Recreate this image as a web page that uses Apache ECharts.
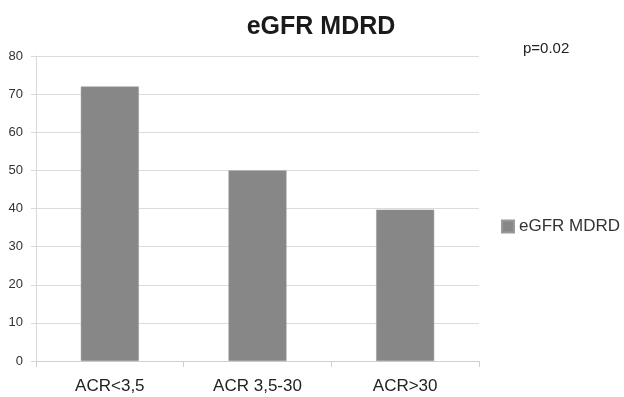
<!DOCTYPE html>
<html>
<head>
<meta charset="utf-8">
<script src="https://cdn.jsdelivr.net/npm/echarts@6/dist/echarts.min.js"></script>
<style>html,body{margin:0;padding:0;background:#fff}#c{width:624px;height:397px}</style>
</head>
<body>
<div id="c"></div>
<script>
const categories = ["ACR<3,5", "ACR 3,5-30", "ACR>30"];
const seriesName = "eGFR MDRD";
const values = [72, 50, 39.7];
const titleText = "eGFR MDRD";
const noteText = "p=0.02";

const chart = echarts.init(document.getElementById('c'), null, {renderer: 'canvas'});
chart.setOption({
  animation: false,
  backgroundColor: '#ffffff',
  title: {
    text: titleText,
    left: 316,
    top: 10,
    textAlign: 'center',
    textStyle: {fontFamily: 'Liberation Sans', fontWeight: 'bold', fontSize: 25, color: '#1a1a1a'}
  },
  graphic: [{
    type: 'text',
    left: 523,
    top: 41,
    style: {text: noteText, fontFamily: 'Liberation Sans', fontSize: 15, fill: '#222'}
  }],
  legend: {
    data: [seriesName],
    left: 496,
    top: 213,
    itemWidth: 12,
    itemHeight: 12,
    itemGap: 5,
    icon: 'rect',
    textStyle: {fontFamily: 'Liberation Sans', fontSize: 17, color: '#333'}
  },
  grid: {left: 36, right: 145, top: 56, bottom: 36, containLabel: false},
  xAxis: {
    type: 'category',
    data: categories,
    axisLine: {show: true, lineStyle: {color: '#d0d0d0', width: 1}},
    axisTick: {show: true, length: 6, lineStyle: {color: '#d0d0d0'}},
    axisLabel: {fontFamily: 'Liberation Sans', fontSize: 17, color: '#222', margin: 17}
  },
  yAxis: {
    type: 'value',
    min: 0,
    max: 80,
    interval: 10,
    axisLine: {show: true, lineStyle: {color: '#d9d9d9'}},
    axisTick: {show: true, length: 5, lineStyle: {color: '#d9d9d9'}},
    splitLine: {show: true, lineStyle: {color: '#dcdcdc', width: 1}},
    axisLabel: {fontFamily: 'Liberation Sans', fontSize: 13, color: '#333', margin: 13}
  },
  series: [{
    name: seriesName,
    type: 'bar',
    data: values,
    barWidth: 58,
    itemStyle: {color: '#878787', borderColor: '#9a9a9a', borderWidth: 0.5}
  }]
});
</script>
</body>
</html>
